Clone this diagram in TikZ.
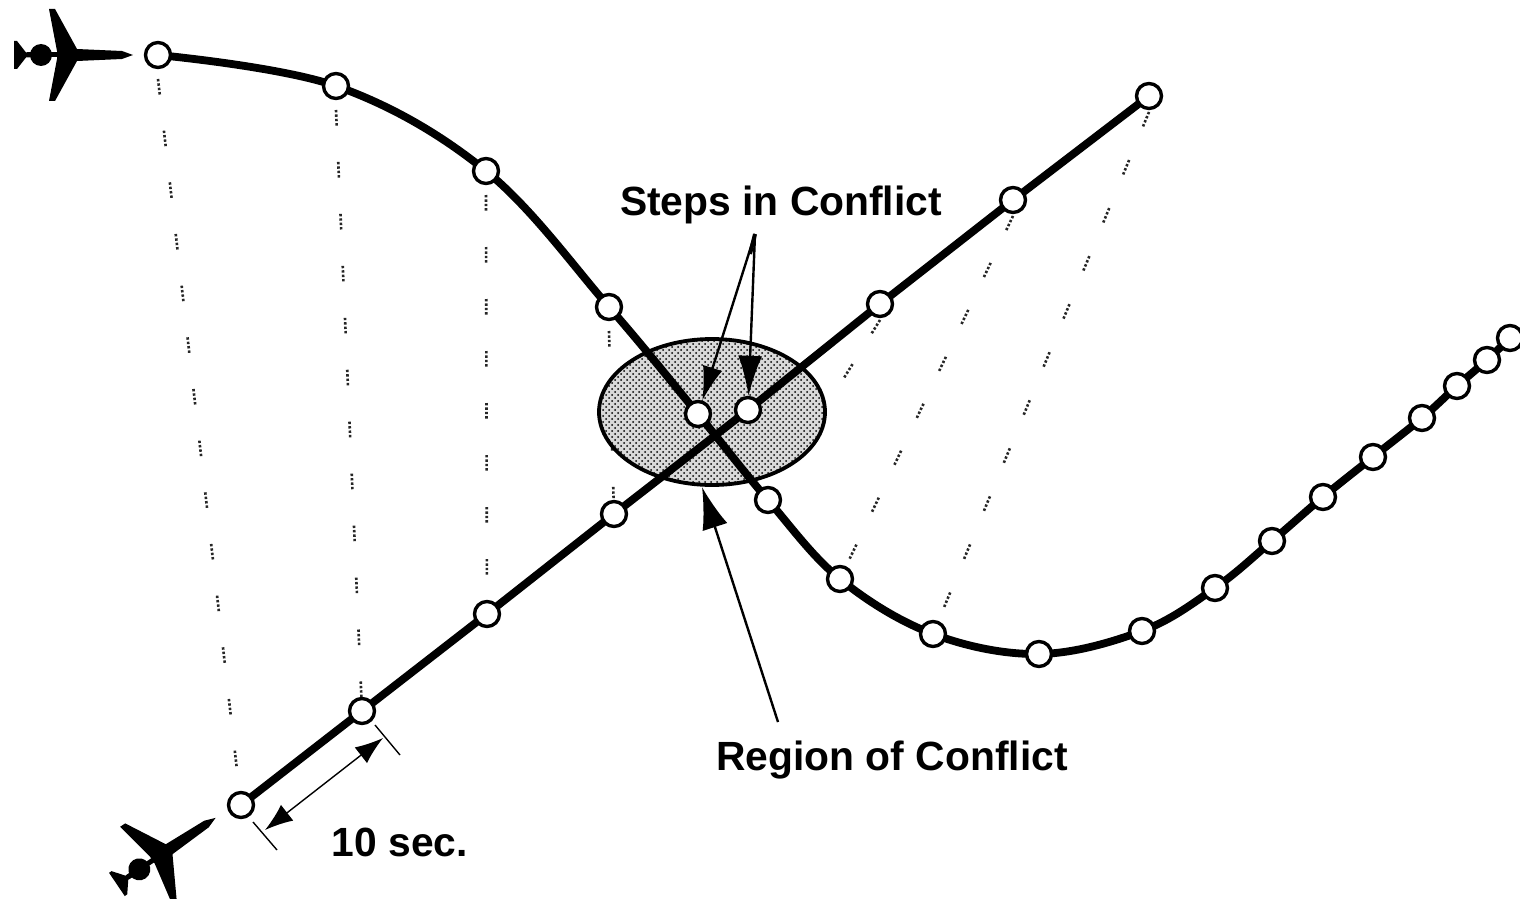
\documentclass[tikz,border=0pt]{standalone}
\usepackage{fontspec}
\setmainfont{Liberation Sans}
\usetikzlibrary{arrows.meta,patterns,shapes.geometric}
\tikzset{
  stepdot/.style={circle,draw=black,fill=white,line width=1.7pt,minimum size=12.5pt,inner sep=0pt},
  track/.style={line width=3.9pt,black},
  tether/.style={line width=1.3pt,black!85,dash pattern=on 1.2pt off 1pt on 1.2pt off 1pt on 1.2pt off 1pt on 1.2pt off 18.2pt},
  callout/.style={line width=1.2pt,black},
  dimline/.style={line width=.7pt,black},
  lbl/.style={font=\bfseries\fontsize{20.4pt}{23pt}\selectfont,inner sep=0pt,anchor=center},
  conflict/.style={draw=black,line width=1.9pt,preaction={fill=black!15},pattern=crosshatch dots,pattern color=black},
  plane/.pic={
    \fill (-15,-4) -- (-23,-46) -- (-17,-46) -- (5,-6) -- (50,-4) -- (61,0) -- (50,4) -- (5,6) -- (-17,46) -- (-23,46) -- (-15,4) -- cycle;
    \fill (-31,0) circle (11);
    \fill (-45,-2.5) rectangle (-10,2.5);
    \fill (-58,-14) -- (-55,-14) -- (-46,-2.5) -- (-40,-2.5) -- (-40,2.5) -- (-46,2.5) -- (-55,14) -- (-58,14) -- cycle;
  }
}
\begin{document}
\begin{tikzpicture}[x=.5pt,y=-.5pt]
\useasboundingbox (0,0) rectangle (1520,899);
\clip (0,0) rectangle (1520,899);
\fill[white] (0,0) rectangle (1520,899);
\foreach \n/\x/\y in {1/158/55,2/336/86,3/486/171,4/609/307,5/698/414,6/768/500,7/840/579,8/933/634,9/1039/654,10/1142/631,11/1215/588,12/1272/541,13/1323/497,14/1373/457,15/1422/418,16/1457/386,17/1487/360,18/1510/338}
  \coordinate (a\n) at (\x,\y);
\foreach \n/\x/\y in {1/241/805,2/362/711,3/487/614,4/614/514,5/748/410,6/880/304,7/1013/200,8/1149/96}
  \coordinate (b\n) at (\x,\y);
% time-step tethers
\foreach \i/\j in {1/1,2/2,3/3,4/4}
  \draw[tether] ([yshift=-12pt]a\i) -- (b\j);
\foreach \i/\j in {8/8,7/7,6/6}
  \draw[tether] ([yshift=-8pt]b\i) -- (a\j);
% region
\node[ellipse,conflict,minimum width=113pt,minimum height=73pt,inner sep=0pt] (region) at (712,412) {};
% tracks
\draw[track] plot[smooth,tension=.6] coordinates {(a1)(a2)(a3)(a4)(a5)(a6)(a7)(a8)(a9)(a10)(a11)(a12)(a13)(a14)(a15)(a16)(a17)(a18)};
\draw[track] (b1) -- (b2) -- (b3) -- (b4) -- (b5) -- (b6) -- (b7) -- (b8);
% step markers
\foreach \n in {1,...,18} \node[stepdot] (na\n) at (a\n) {};
\foreach \n in {1,...,8} \node[stepdot] (nb\n) at (b\n) {};
% aircraft
\pic at (72,55) {plane};
\pic[rotate=34] at (165,852) {plane};
% labels
\node[lbl] (steps) at (781,205) {Steps in Conflict};
\node[lbl] (rlabel) at (892,760) {Region of Conflict};
\node[lbl] (tensec) at (400,842) {10 sec.};
% callouts
\coordinate (apex) at (755,234);
\coordinate (rstart) at (778,722);
\draw[line width=2pt] (apex) -- ++(-5,20);
\draw[callout,-{Latex[length=17pt,width=10pt]}] (apex) -- (na5);
\draw[callout,-{Latex[length=20pt,width=12pt]}] (apex) -- (nb5);
\draw[callout,-{Latex[length=21pt,width=13pt]}] (rstart) -- (702,487);
% 10 sec dimension
\coordinate (t1a) at (375,725); \coordinate (t1b) at (400,755);
\coordinate (t2a) at (253,822); \coordinate (t2b) at (277,850);
\draw[dimline] (t1a) -- (t1b);
\draw[dimline] (t2a) -- (t2b);
\draw[dimline,{Latex[length=14pt,width=10pt]}-{Latex[length=14pt,width=10pt]}] (265,830) -- (383,738);
\end{tikzpicture}
\end{document}
